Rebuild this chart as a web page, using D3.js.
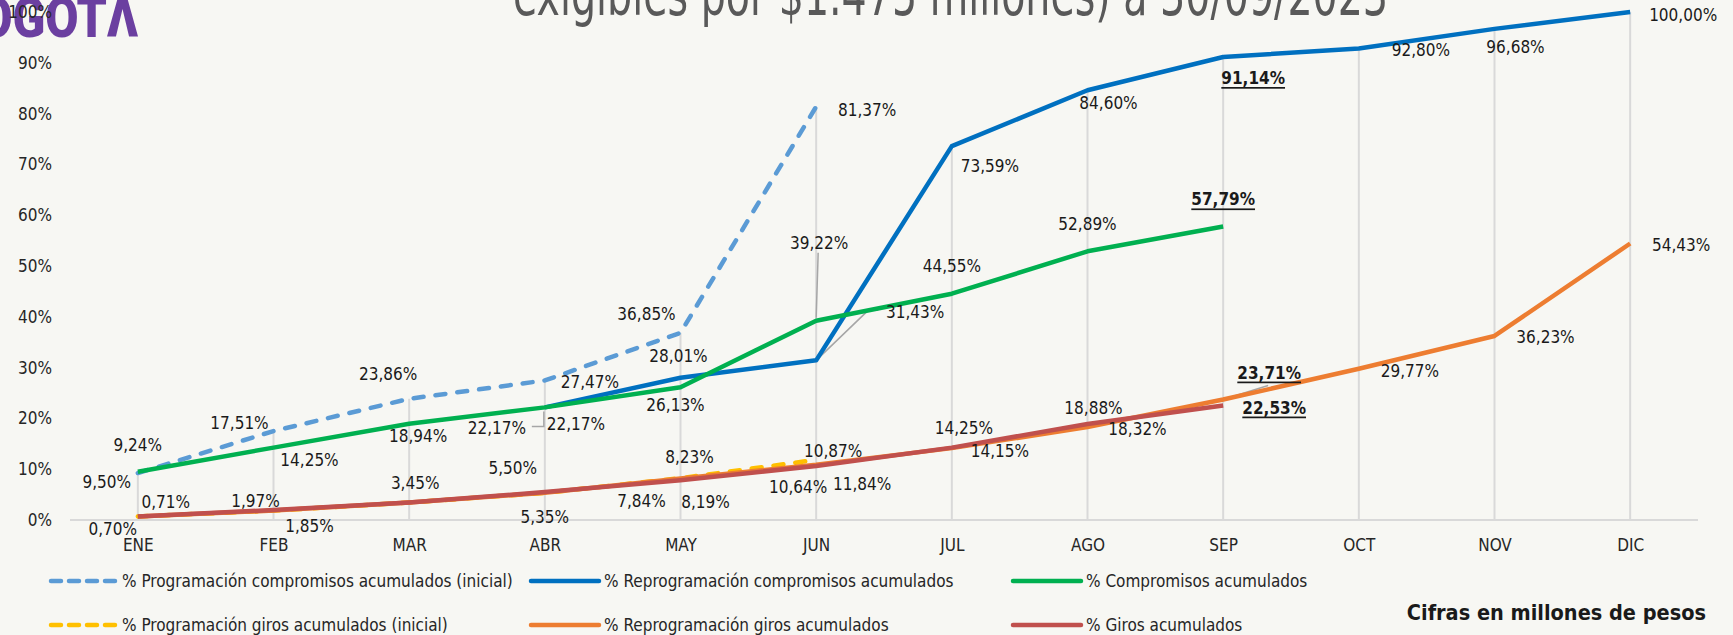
<!DOCTYPE html>
<html>
<head>
<meta charset="utf-8">
<script src="https://cdn.jsdelivr.net/npm/d3@7"></script>
<style>
  html, body { margin: 0; padding: 0; background: #f7f7f3; overflow: hidden; }
  svg { display: block; }
  text { font-family: 'Liberation Sans Narrow', 'DejaVu Sans Condensed', sans-serif; fill: #1a1a1a; }
</style>
</head>
<body>
<svg id="chart"></svg>
<script>
'use strict'

const MONTHS = ['ENE', 'FEB', 'MAR', 'ABR', 'MAY', 'JUN', 'JUL', 'AGO', 'SEP', 'OCT', 'NOV', 'DIC'];
const Y_TICKS = [0, 10, 20, 30, 40, 50, 60, 70, 80, 90, 100];
const CORTE = 'SEP';

const PROG_COMPROMISOS = [9.24, 17.51, 23.86, 27.47, 36.85, 81.37];
const REPROG_COMPROMISOS = [null, null, null, 22.17, 28.01, 31.43, 73.59, 84.60, 91.14, 92.80, 96.68, 100.00];
const COMPROMISOS = [9.50, 14.25, 18.94, 22.17, 26.13, 39.22, 44.55, 52.89, 57.79];
const PROG_GIROS = [0.70, 1.85, 3.45, 5.35, 8.23, 11.84];
const REPROG_GIROS = [0.70, 1.85, 3.45, 5.35, 8.19, 10.87, 14.15, 18.32, 23.71, 29.77, 36.23, 54.43];
const GIROS = [0.71, 1.97, 3.45, 5.50, 7.84, 10.64, 14.25, 18.88, 22.53];

const SERIES_NAMES = [
	'% Programación compromisos acumulados (inicial)',
	'% Reprogramación compromisos acumulados',
	'% Compromisos acumulados',
	'% Programación giros acumulados (inicial)',
	'% Reprogramación giros acumulados',
	'% Giros acumulados'
];

const TITLE = 'exigibles por $1.475 millones) a 30/09/2023';
const NOTE = 'Cifras en millones de pesos';

// label offsets from the point, one per value (null = no label)
var labelOffsets = [
	[[0, -28], [-34, -8], [-21, -25], [45, 2], [-34, -19], [51, 3]],
	[null, null, null, [31, 17], [-2, -22], [99, -48], [38, 20], [21, 13], [30, 21], [62, 1], [21, 18], [53, 3]],
	[[-31, 10], [36, 12], [9, 12], [-48, 21], [-5, 18], [3, -78], [0, -28], [0, -27], [0, -27]],
	[null, null, null, null, [9, -21], [46, 24]],
	[[-25, 13], [36, 15], null, [0, 24], [25, 24], [17, -14], [48, 3], [50, 2], [46, -27], [51, 2], [51, 1], [51, 2]],
	[[28, -14], [-18, -9], [6, -19], [-32, -24], [-39, 21], [-18, 21], [12, -20], [6, -16], [51, 2]]
];

// leader lines: series index, value index, path relative to the point
var leaders = [
	{ s: 2, i: 5, path: [[0, -3], [2, -68]] },
	{ s: 1, i: 5, path: [[0, 0], [52, -50], [62, -50]] },
	{ s: 2, i: 3, path: [[-13, 19], [-1, 19], [-1, 4]] },
	{ s: 4, i: 8, path: [[0, 0], [45, -14]] }
];

var series = [
	{ values: PROG_COMPROMISOS, color: '#5b9bd5', dash: true },
	{ values: REPROG_COMPROMISOS, color: '#0070c0', dash: false },
	{ values: COMPROMISOS, color: '#00b050', dash: false },
	{ values: PROG_GIROS, color: '#ffc000', dash: true },
	{ values: REPROG_GIROS, color: '#ed7d31', dash: false },
	{ values: GIROS, color: '#c0504d', dash: false }
];
series.forEach(function(s, k) { s.name = SERIES_NAMES[k]; s.labels = labelOffsets[k]; });

var width = 1733;
var height = 635;

var svg = d3.select('#chart')
	.attr('width', width)
	.attr('height', height);

svg.append('rect')
	.attr('width', width)
	.attr('height', height)
	.attr('fill', '#f7f7f3');

var x = d3.scalePoint()
	.domain(MONTHS)
	.range([70, 1698])
	.padding(0.5);

var y = d3.scaleLinear()
	.domain([0, 100])
	.range([520, 12]);

var es = d3.formatLocale({ decimal: ',', thousands: '.', grouping: [3], currency: ['$', ''] });
var fmt = function(v) { return es.format('.2f')(v) + '%'; };

// logo and title, cut by the top edge
svg.append('text')
	.attr('x', -52)
	.attr('y', 37)
	.attr('textLength', 190)
	.attr('lengthAdjust', 'spacingAndGlyphs')
	.style('font-family', 'Roboto, sans-serif')
	.style('font-weight', 900)
	.style('font-size', '56px')
	.style('fill', '#6b3fa0')
	.text('BOGOTΛ');

svg.append('text')
	.attr('x', 513)
	.attr('y', 15)
	.attr('textLength', 875)
	.attr('lengthAdjust', 'spacingAndGlyphs')
	.style('font-size', '58px')
	.style('fill', '#595959')
	.text(TITLE);

// drop lines
var maxByMonth = MONTHS.map(function(m, i) {
	return d3.max(series, function(s) { return s.values[i]; });
});

svg.append('g')
	.selectAll('line')
	.data(MONTHS)
	.enter()
	.append('line')
	.attr('x1', function(d) { return x(d); })
	.attr('x2', function(d) { return x(d); })
	.attr('y1', y(0))
	.attr('y2', function(d, i) { return y(maxByMonth[i]); })
	.attr('stroke', '#d9d9d9')
	.attr('stroke-width', 2);

// x axis
var xAxis = svg.append('g')
	.attr('transform', 'translate(0,' + y(0) + ')')
	.call(d3.axisBottom(x).tickSize(0).tickPadding(19));
xAxis.select('.domain')
	.attr('d', 'M70,0H1698')
	.attr('stroke', '#d9d9d9')
	.attr('stroke-width', 2);
xAxis.selectAll('text')
	.style('font-size', '17px')
	.style('fill', '#262626')
	.style('font-family', null);

// y axis labels only
var yAxis = svg.append('g')
	.attr('transform', 'translate(52,0)')
	.call(d3.axisLeft(y).tickValues(Y_TICKS).tickSize(0).tickPadding(0).tickFormat(function(d) { return d + '%'; }));
yAxis.select('.domain').remove();
yAxis.selectAll('text')
	.style('font-size', '17px')
	.style('fill', '#262626')
	.style('font-family', null);

// leader lines
svg.append('g')
	.selectAll('path')
	.data(leaders)
	.enter()
	.append('path')
	.attr('d', function(d) {
		var s = series[d.s];
		var px = x(MONTHS[d.i]), py = y(s.values[d.i]);
		return 'M' + d.path.map(function(p) { return (px + p[0]) + ',' + (py + p[1]); }).join('L');
	})
	.attr('fill', 'none')
	.attr('stroke', '#a6a6a6')
	.attr('stroke-width', 1.5);

// series lines
var line = d3.line()
	.defined(function(d) { return d != null; })
	.x(function(d, i) { return x(MONTHS[i]); })
	.y(function(d) { return y(d); });

svg.append('g')
	.selectAll('path')
	.data(series)
	.enter()
	.append('path')
	.attr('d', function(d) { return line(d.values); })
	.attr('fill', 'none')
	.attr('stroke', function(d) { return d.color; })
	.attr('stroke-width', 4.5)
	.attr('stroke-linecap', function(d) { return d.dash ? 'round' : 'butt'; })
	.attr('stroke-linejoin', 'round')
	.attr('stroke-dasharray', function(d) { return d.dash ? '10,12' : null; });

// data labels
var labelData = [];
series.forEach(function(s) {
	s.values.forEach(function(v, i) {
		if (v == null || !s.labels[i]) return;
		labelData.push({ v: v, m: MONTHS[i], off: s.labels[i] });
	});
});

svg.append('g')
	.selectAll('text')
	.data(labelData)
	.enter()
	.append('text')
	.attr('x', function(d) { return x(d.m) + d.off[0]; })
	.attr('y', function(d) { return y(d.v) + d.off[1]; })
	.attr('text-anchor', 'middle')
	.attr('dominant-baseline', 'central')
	.style('font-size', '17px')
	.style('font-weight', function(d) { return d.m === CORTE ? 700 : 400; })
	.style('text-decoration', function(d) { return d.m === CORTE ? 'underline' : null; })
	.text(function(d) { return fmt(d.v); });

// legend
var legendCols = [49, 531, 1013];
var legendRows = [581, 625];

var legend = svg.append('g')
	.selectAll('g')
	.data(series)
	.enter()
	.append('g')
	.attr('transform', function(d, i) {
		return 'translate(' + legendCols[i % 3] + ',' + legendRows[Math.floor(i / 3)] + ')';
	});

legend.append('line')
	.attr('x1', function(d) { return d.dash ? 2 : 0; })
	.attr('x2', 68)
	.attr('stroke', function(d) { return d.color; })
	.attr('stroke-width', 4.5)
	.attr('stroke-linecap', 'round')
	.attr('stroke-dasharray', function(d) { return d.dash ? '10,8' : null; });

legend.append('text')
	.attr('x', 73)
	.attr('dominant-baseline', 'central')
	.style('font-size', '17px')
	.style('fill', '#262626')
	.text(function(d) { return d.name; });

svg.append('text')
	.attr('x', 1706)
	.attr('y', 612)
	.attr('text-anchor', 'end')
	.attr('dominant-baseline', 'central')
	.style('font-size', '21.5px')
	.style('font-weight', 700)
	.text(NOTE);
</script>
</body>
</html>
